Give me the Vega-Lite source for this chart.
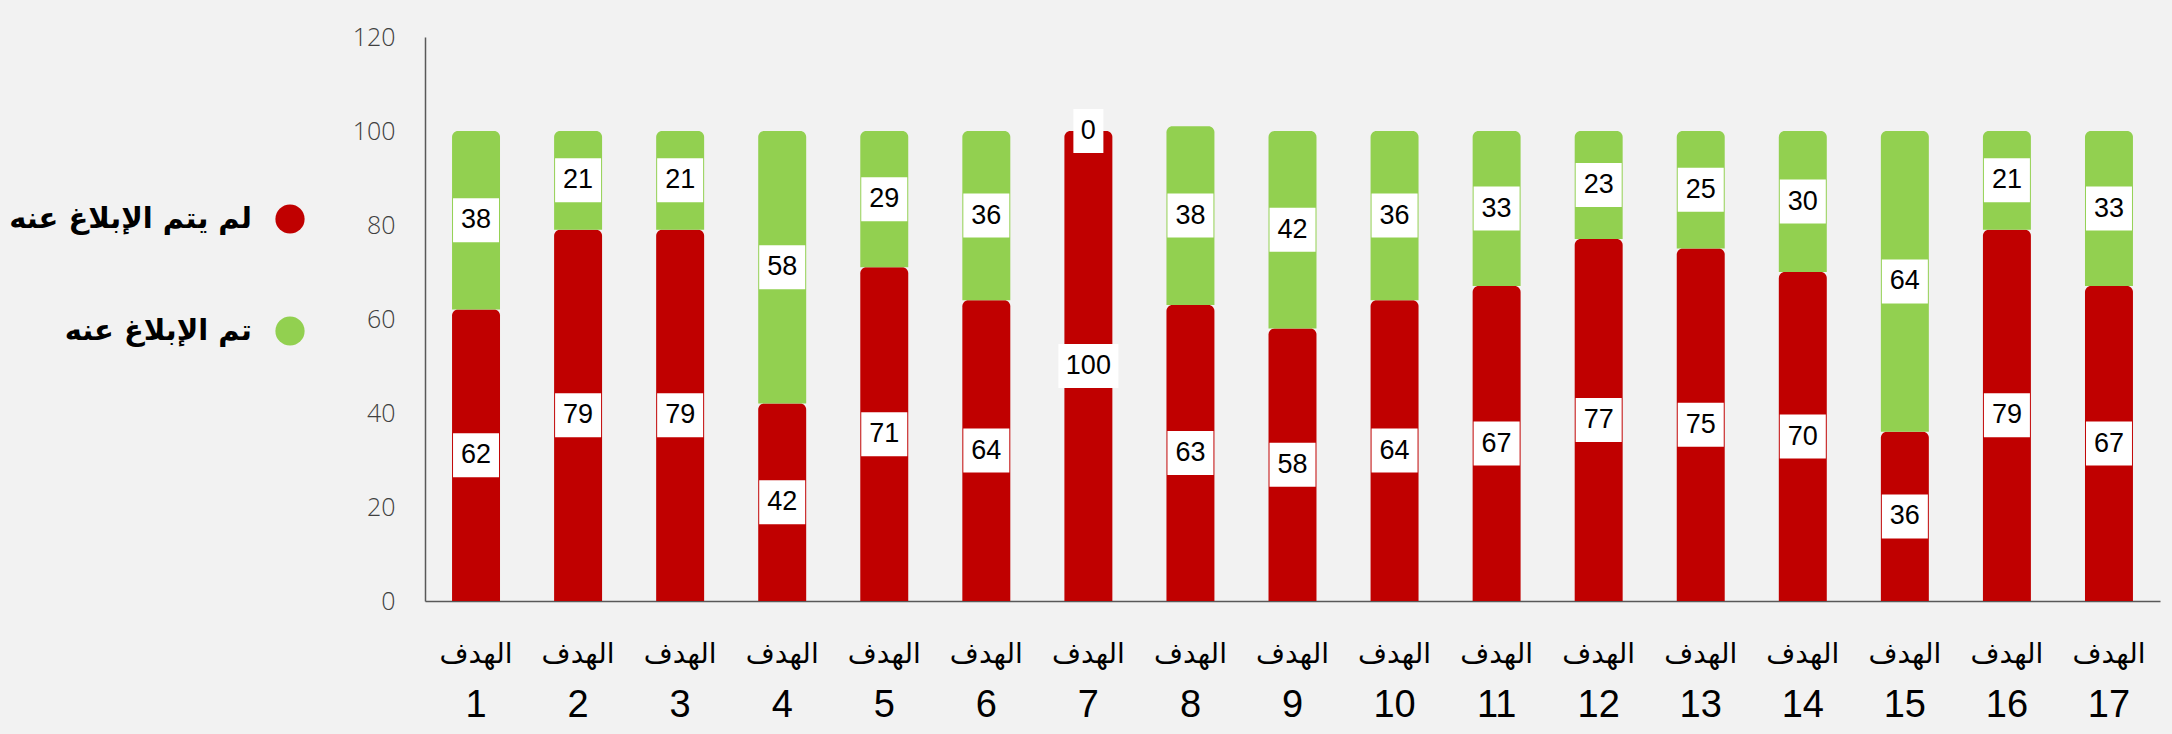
{
  "$schema": "https://vega.github.io/schema/vega-lite/v6.json",
  "width": 1735,
  "height": 564,
  "autosize": {"type": "none"},
  "padding": {"left": 425, "top": 37, "right": 12, "bottom": 133},
  "background": "#f2f2f2",
  "config": {"view": {"stroke": null}},
  "data": {
    "values": [
      {"goal": 1, "status": "لم يتم الإبلاغ عنه", "ord": 1, "value": 62},
      {"goal": 1, "status": "تم الإبلاغ عنه", "ord": 2, "value": 38},
      {"goal": 2, "status": "لم يتم الإبلاغ عنه", "ord": 1, "value": 79},
      {"goal": 2, "status": "تم الإبلاغ عنه", "ord": 2, "value": 21},
      {"goal": 3, "status": "لم يتم الإبلاغ عنه", "ord": 1, "value": 79},
      {"goal": 3, "status": "تم الإبلاغ عنه", "ord": 2, "value": 21},
      {"goal": 4, "status": "لم يتم الإبلاغ عنه", "ord": 1, "value": 42},
      {"goal": 4, "status": "تم الإبلاغ عنه", "ord": 2, "value": 58},
      {"goal": 5, "status": "لم يتم الإبلاغ عنه", "ord": 1, "value": 71},
      {"goal": 5, "status": "تم الإبلاغ عنه", "ord": 2, "value": 29},
      {"goal": 6, "status": "لم يتم الإبلاغ عنه", "ord": 1, "value": 64},
      {"goal": 6, "status": "تم الإبلاغ عنه", "ord": 2, "value": 36},
      {"goal": 7, "status": "لم يتم الإبلاغ عنه", "ord": 1, "value": 100},
      {"goal": 7, "status": "تم الإبلاغ عنه", "ord": 2, "value": 0},
      {"goal": 8, "status": "لم يتم الإبلاغ عنه", "ord": 1, "value": 63},
      {"goal": 8, "status": "تم الإبلاغ عنه", "ord": 2, "value": 38},
      {"goal": 9, "status": "لم يتم الإبلاغ عنه", "ord": 1, "value": 58},
      {"goal": 9, "status": "تم الإبلاغ عنه", "ord": 2, "value": 42},
      {"goal": 10, "status": "لم يتم الإبلاغ عنه", "ord": 1, "value": 64},
      {"goal": 10, "status": "تم الإبلاغ عنه", "ord": 2, "value": 36},
      {"goal": 11, "status": "لم يتم الإبلاغ عنه", "ord": 1, "value": 67},
      {"goal": 11, "status": "تم الإبلاغ عنه", "ord": 2, "value": 33},
      {"goal": 12, "status": "لم يتم الإبلاغ عنه", "ord": 1, "value": 77},
      {"goal": 12, "status": "تم الإبلاغ عنه", "ord": 2, "value": 23},
      {"goal": 13, "status": "لم يتم الإبلاغ عنه", "ord": 1, "value": 75},
      {"goal": 13, "status": "تم الإبلاغ عنه", "ord": 2, "value": 25},
      {"goal": 14, "status": "لم يتم الإبلاغ عنه", "ord": 1, "value": 70},
      {"goal": 14, "status": "تم الإبلاغ عنه", "ord": 2, "value": 30},
      {"goal": 15, "status": "لم يتم الإبلاغ عنه", "ord": 1, "value": 36},
      {"goal": 15, "status": "تم الإبلاغ عنه", "ord": 2, "value": 64},
      {"goal": 16, "status": "لم يتم الإبلاغ عنه", "ord": 1, "value": 79},
      {"goal": 16, "status": "تم الإبلاغ عنه", "ord": 2, "value": 21},
      {"goal": 17, "status": "لم يتم الإبلاغ عنه", "ord": 1, "value": 67},
      {"goal": 17, "status": "تم الإبلاغ عنه", "ord": 2, "value": 33}
    ]
  },
  "transform": [
    {"stack": "value", "groupby": ["goal"], "sort": [{"field": "ord", "order": "ascending"}], "as": ["v0", "v1"]},
    {"calculate": "(datum.v0 + datum.v1) / 2", "as": "mid"}
  ],
  "resolve": {"axis": {"x": "independent"}},
  "layer": [
    {
      "mark": {"type": "bar", "cornerRadiusTopLeft": 6, "cornerRadiusTopRight": 6},
      "encoding": {
        "x": {
          "field": "goal", "type": "ordinal",
          "scale": {"paddingInner": 0.53, "paddingOuter": 0.265},
          "axis": {
            "orient": "bottom",
            "title": null, "labelExpr": "'الهدف'", "labelAngle": 0,
            "labelFont": "DejaVu Sans", "labelFontSize": 28, "labelColor": "#000000",
            "labelBaseline": "middle", "labelPadding": 53,
            "ticks": false, "tickSize": 0,
            "domain": true, "domainColor": "#595959", "domainWidth": 1.5
          }
        },
        "y": {
          "field": "v0", "type": "quantitative",
          "scale": {"domain": [0, 120], "nice": false},
          "axis": {
            "title": null, "values": [0, 20, 40, 60, 80, 100, 120], "grid": false,
            "ticks": false, "tickSize": 0,
            "domain": true, "domainColor": "#595959", "domainWidth": 1.5,
            "labelFont": "Open Sans", "labelFontWeight": 300, "labelFontSize": 25,
            "labelColor": "#404040", "labelPadding": 30
          }
        },
        "y2": {"field": "v1"},
        "color": {
          "field": "status", "type": "nominal",
          "scale": {"domain": ["لم يتم الإبلاغ عنه", "تم الإبلاغ عنه"], "range": ["#c00000", "#92d050"]},
          "legend": {
            "orient": "none", "legendX": -150, "legendY": 167, "title": null,
            "symbolType": "circle", "symbolSize": 855, "symbolStrokeWidth": 0, "symbolOpacity": 1,
            "labelFont": "DejaVu Sans", "labelFontWeight": "bold", "labelFontSize": 29,
            "labelColor": "#000000", "labelAlign": "right", "labelOffset": -53,
            "rowPadding": 82, "labelLimit": 400
          }
        }
      }
    },
    {
      "mark": {"type": "tick", "color": "#ffffff", "thickness": 44, "opacity": 1},
      "encoding": {
        "x": {"field": "goal", "type": "ordinal", "axis": null},
        "y": {"field": "mid", "type": "quantitative"},
        "size": {
          "condition": [
            {"test": "datum.value >= 100", "value": 60},
            {"test": "datum.value < 10", "value": 30}
          ],
          "value": 46
        }
      }
    },
    {
      "mark": {"type": "text", "font": "Liberation Sans", "fontSize": 27, "color": "#000000", "baseline": "middle"},
      "encoding": {
        "x": {
          "field": "goal", "type": "ordinal",
          "axis": {
            "orient": "bottom",
            "title": null, "labelAngle": 0, "domain": false, "ticks": false, "tickSize": 0,
            "labelFont": "Liberation Sans", "labelFontSize": 38, "labelColor": "#000000",
            "labelBaseline": "middle", "labelPadding": 104
          }
        },
        "y": {"field": "mid", "type": "quantitative"},
        "text": {"field": "value", "type": "quantitative"}
      }
    }
  ]
}
